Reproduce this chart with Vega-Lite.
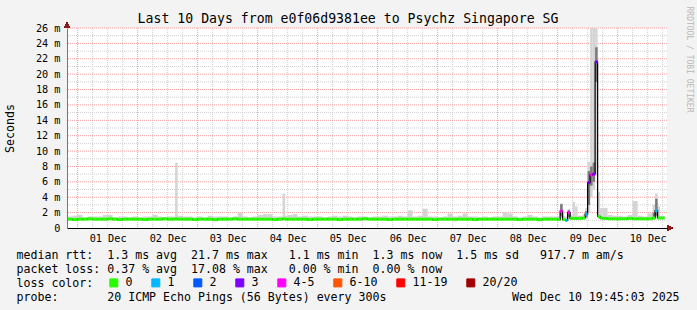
{
  "$schema": "https://vega.github.io/schema/vega-lite/v6.json",
  "width": 600,
  "height": 200,
  "autosize": "none",
  "padding": {"left": 67, "top": 28, "right": 30, "bottom": 82},
  "background": "#f3f3f3",
  "config": {"view": {"stroke": null, "fill": "#ffffff"}, "font": "DejaVu Sans Mono"},
  "title": {"text": "Last 10 Days from e0f06d9381ee to Psychz Singapore SG", "font": "DejaVu Sans Mono", "fontSize": 13.2, "fontWeight": "normal", "color": "#000000", "anchor": "middle", "frame": "group", "dx": -19, "offset": -30, "baseline": "alphabetic"},
  "data": {
    "values": [
      {"t":"2025-11-30T18:00:00Z","e":"2025-11-30T20:00:00Z","m":1.15,"l":1.0,"h":1.5,"p":"0"},
      {"t":"2025-11-30T20:00:00Z","e":"2025-11-30T22:00:00Z","m":1.15,"l":1.0,"h":1.5,"p":"0"},
      {"t":"2025-11-30T22:00:00Z","e":"2025-12-01T00:00:00Z","m":1.1,"l":0.9,"h":1.6,"p":"0"},
      {"t":"2025-12-01T00:00:00Z","e":"2025-12-01T02:00:00Z","m":1.15,"l":1.0,"h":1.7,"p":"0"},
      {"t":"2025-12-01T02:00:00Z","e":"2025-12-01T04:00:00Z","m":1.15,"l":1.0,"h":1.4,"p":"0"},
      {"t":"2025-12-01T04:00:00Z","e":"2025-12-01T06:00:00Z","m":1.2,"l":1.0,"h":1.5,"p":"0"},
      {"t":"2025-12-01T06:00:00Z","e":"2025-12-01T08:00:00Z","m":1.15,"l":1.0,"h":1.5,"p":"0"},
      {"t":"2025-12-01T08:00:00Z","e":"2025-12-01T10:00:00Z","m":1.15,"l":0.95,"h":1.5,"p":"0"},
      {"t":"2025-12-01T10:00:00Z","e":"2025-12-01T12:00:00Z","m":1.15,"l":1.0,"h":1.7,"p":"0"},
      {"t":"2025-12-01T12:00:00Z","e":"2025-12-01T14:00:00Z","m":1.2,"l":1.0,"h":1.7,"p":"0"},
      {"t":"2025-12-01T14:00:00Z","e":"2025-12-01T16:00:00Z","m":1.15,"l":1.0,"h":1.4,"p":"0"},
      {"t":"2025-12-01T16:00:00Z","e":"2025-12-01T18:00:00Z","m":1.1,"l":0.95,"h":1.5,"p":"0"},
      {"t":"2025-12-01T18:00:00Z","e":"2025-12-01T20:00:00Z","m":1.15,"l":1.0,"h":1.5,"p":"0"},
      {"t":"2025-12-01T20:00:00Z","e":"2025-12-01T22:00:00Z","m":1.15,"l":1.0,"h":1.4,"p":"0"},
      {"t":"2025-12-01T22:00:00Z","e":"2025-12-02T00:00:00Z","m":1.15,"l":1.0,"h":1.5,"p":"0"},
      {"t":"2025-12-02T00:00:00Z","e":"2025-12-02T02:00:00Z","m":1.15,"l":1.0,"h":1.4,"p":"0"},
      {"t":"2025-12-02T02:00:00Z","e":"2025-12-02T04:00:00Z","m":1.1,"l":0.95,"h":1.5,"p":"0"},
      {"t":"2025-12-02T04:00:00Z","e":"2025-12-02T06:00:00Z","m":1.15,"l":1.0,"h":1.5,"p":"0"},
      {"t":"2025-12-02T06:00:00Z","e":"2025-12-02T08:00:00Z","m":1.15,"l":1.0,"h":1.7,"p":"0"},
      {"t":"2025-12-02T08:00:00Z","e":"2025-12-02T10:00:00Z","m":1.15,"l":1.0,"h":1.5,"p":"0"},
      {"t":"2025-12-02T10:00:00Z","e":"2025-12-02T12:00:00Z","m":1.2,"l":1.0,"h":1.4,"p":"0"},
      {"t":"2025-12-02T12:00:00Z","e":"2025-12-02T14:00:00Z","m":1.15,"l":1.0,"h":1.5,"p":"0"},
      {"t":"2025-12-02T14:00:00Z","e":"2025-12-02T15:00:00Z","m":1.15,"l":1.0,"h":1.5,"p":"0"},
      {"t":"2025-12-02T15:00:00Z","e":"2025-12-02T16:00:00Z","m":1.2,"l":1.0,"h":8.5,"p":"0"},
      {"t":"2025-12-02T16:00:00Z","e":"2025-12-02T18:00:00Z","m":1.15,"l":1.0,"h":1.6,"p":"0"},
      {"t":"2025-12-02T18:00:00Z","e":"2025-12-02T20:00:00Z","m":1.15,"l":0.95,"h":1.5,"p":"0"},
      {"t":"2025-12-02T20:00:00Z","e":"2025-12-02T22:00:00Z","m":1.15,"l":1.0,"h":1.5,"p":"0"},
      {"t":"2025-12-02T22:00:00Z","e":"2025-12-03T00:00:00Z","m":1.1,"l":0.95,"h":1.4,"p":"0"},
      {"t":"2025-12-03T00:00:00Z","e":"2025-12-03T02:00:00Z","m":1.15,"l":1.0,"h":1.5,"p":"0"},
      {"t":"2025-12-03T02:00:00Z","e":"2025-12-03T04:00:00Z","m":1.15,"l":1.0,"h":1.4,"p":"0"},
      {"t":"2025-12-03T04:00:00Z","e":"2025-12-03T06:00:00Z","m":1.15,"l":1.0,"h":1.6,"p":"0"},
      {"t":"2025-12-03T06:00:00Z","e":"2025-12-03T08:00:00Z","m":1.1,"l":0.85,"h":1.5,"p":"0"},
      {"t":"2025-12-03T08:00:00Z","e":"2025-12-03T10:00:00Z","m":1.15,"l":1.0,"h":1.5,"p":"0"},
      {"t":"2025-12-03T10:00:00Z","e":"2025-12-03T12:00:00Z","m":1.15,"l":1.0,"h":1.5,"p":"0"},
      {"t":"2025-12-03T12:00:00Z","e":"2025-12-03T14:00:00Z","m":1.15,"l":1.0,"h":1.4,"p":"0"},
      {"t":"2025-12-03T14:00:00Z","e":"2025-12-03T16:00:00Z","m":1.2,"l":1.0,"h":1.5,"p":"0"},
      {"t":"2025-12-03T16:00:00Z","e":"2025-12-03T18:00:00Z","m":1.15,"l":1.0,"h":2.0,"p":"0"},
      {"t":"2025-12-03T18:00:00Z","e":"2025-12-03T20:00:00Z","m":1.15,"l":1.0,"h":1.5,"p":"0"},
      {"t":"2025-12-03T20:00:00Z","e":"2025-12-03T22:00:00Z","m":1.15,"l":1.0,"h":1.4,"p":"0"},
      {"t":"2025-12-03T22:00:00Z","e":"2025-12-04T00:00:00Z","m":1.15,"l":1.0,"h":1.5,"p":"0"},
      {"t":"2025-12-04T00:00:00Z","e":"2025-12-04T02:00:00Z","m":1.15,"l":1.0,"h":1.7,"p":"0"},
      {"t":"2025-12-04T02:00:00Z","e":"2025-12-04T04:00:00Z","m":1.15,"l":1.0,"h":1.8,"p":"0"},
      {"t":"2025-12-04T04:00:00Z","e":"2025-12-04T06:00:00Z","m":1.15,"l":1.0,"h":1.8,"p":"0"},
      {"t":"2025-12-04T06:00:00Z","e":"2025-12-04T08:00:00Z","m":1.1,"l":0.95,"h":1.5,"p":"0"},
      {"t":"2025-12-04T08:00:00Z","e":"2025-12-04T10:00:00Z","m":1.15,"l":1.0,"h":1.5,"p":"0"},
      {"t":"2025-12-04T10:00:00Z","e":"2025-12-04T11:00:00Z","m":1.2,"l":1.0,"h":4.5,"p":"0"},
      {"t":"2025-12-04T11:00:00Z","e":"2025-12-04T12:00:00Z","m":1.15,"l":1.0,"h":1.6,"p":"0"},
      {"t":"2025-12-04T12:00:00Z","e":"2025-12-04T14:00:00Z","m":1.15,"l":1.0,"h":1.7,"p":"0"},
      {"t":"2025-12-04T14:00:00Z","e":"2025-12-04T16:00:00Z","m":1.15,"l":1.0,"h":1.8,"p":"0"},
      {"t":"2025-12-04T16:00:00Z","e":"2025-12-04T18:00:00Z","m":1.15,"l":1.0,"h":1.5,"p":"0"},
      {"t":"2025-12-04T18:00:00Z","e":"2025-12-04T20:00:00Z","m":1.15,"l":1.0,"h":1.6,"p":"0"},
      {"t":"2025-12-04T20:00:00Z","e":"2025-12-04T22:00:00Z","m":1.1,"l":0.95,"h":1.5,"p":"0"},
      {"t":"2025-12-04T22:00:00Z","e":"2025-12-05T00:00:00Z","m":1.15,"l":1.0,"h":1.5,"p":"0"},
      {"t":"2025-12-05T00:00:00Z","e":"2025-12-05T02:00:00Z","m":1.15,"l":1.0,"h":1.5,"p":"0"},
      {"t":"2025-12-05T02:00:00Z","e":"2025-12-05T04:00:00Z","m":1.15,"l":1.0,"h":1.4,"p":"0"},
      {"t":"2025-12-05T04:00:00Z","e":"2025-12-05T06:00:00Z","m":1.15,"l":1.0,"h":1.5,"p":"0"},
      {"t":"2025-12-05T06:00:00Z","e":"2025-12-05T08:00:00Z","m":1.15,"l":1.0,"h":1.6,"p":"0"},
      {"t":"2025-12-05T08:00:00Z","e":"2025-12-05T10:00:00Z","m":1.1,"l":0.95,"h":1.5,"p":"0"},
      {"t":"2025-12-05T10:00:00Z","e":"2025-12-05T12:00:00Z","m":1.15,"l":1.0,"h":1.6,"p":"0"},
      {"t":"2025-12-05T12:00:00Z","e":"2025-12-05T14:00:00Z","m":1.15,"l":1.0,"h":1.5,"p":"0"},
      {"t":"2025-12-05T14:00:00Z","e":"2025-12-05T16:00:00Z","m":1.15,"l":1.0,"h":1.4,"p":"0"},
      {"t":"2025-12-05T16:00:00Z","e":"2025-12-05T18:00:00Z","m":1.15,"l":1.0,"h":1.5,"p":"0"},
      {"t":"2025-12-05T18:00:00Z","e":"2025-12-05T20:00:00Z","m":1.2,"l":1.0,"h":1.5,"p":"0"},
      {"t":"2025-12-05T20:00:00Z","e":"2025-12-05T22:00:00Z","m":1.15,"l":1.0,"h":1.4,"p":"0"},
      {"t":"2025-12-05T22:00:00Z","e":"2025-12-06T00:00:00Z","m":1.15,"l":1.0,"h":1.5,"p":"0"},
      {"t":"2025-12-06T00:00:00Z","e":"2025-12-06T02:00:00Z","m":1.15,"l":1.0,"h":1.5,"p":"0"},
      {"t":"2025-12-06T02:00:00Z","e":"2025-12-06T04:00:00Z","m":1.15,"l":1.0,"h":1.6,"p":"0"},
      {"t":"2025-12-06T04:00:00Z","e":"2025-12-06T06:00:00Z","m":1.1,"l":0.95,"h":1.5,"p":"0"},
      {"t":"2025-12-06T06:00:00Z","e":"2025-12-06T08:00:00Z","m":1.15,"l":1.0,"h":1.5,"p":"0"},
      {"t":"2025-12-06T08:00:00Z","e":"2025-12-06T10:00:00Z","m":1.15,"l":1.0,"h":1.6,"p":"0"},
      {"t":"2025-12-06T10:00:00Z","e":"2025-12-06T12:00:00Z","m":1.15,"l":1.0,"h":1.5,"p":"0"},
      {"t":"2025-12-06T12:00:00Z","e":"2025-12-06T14:00:00Z","m":1.15,"l":1.0,"h":2.3,"p":"0"},
      {"t":"2025-12-06T14:00:00Z","e":"2025-12-06T16:00:00Z","m":1.15,"l":1.0,"h":1.5,"p":"0"},
      {"t":"2025-12-06T16:00:00Z","e":"2025-12-06T18:00:00Z","m":1.15,"l":1.0,"h":1.6,"p":"0"},
      {"t":"2025-12-06T18:00:00Z","e":"2025-12-06T20:00:00Z","m":1.15,"l":1.0,"h":2.5,"p":"0"},
      {"t":"2025-12-06T20:00:00Z","e":"2025-12-06T22:00:00Z","m":1.15,"l":1.0,"h":1.5,"p":"0"},
      {"t":"2025-12-06T22:00:00Z","e":"2025-12-07T00:00:00Z","m":1.1,"l":0.95,"h":1.5,"p":"0"},
      {"t":"2025-12-07T00:00:00Z","e":"2025-12-07T02:00:00Z","m":1.15,"l":1.0,"h":1.4,"p":"0"},
      {"t":"2025-12-07T02:00:00Z","e":"2025-12-07T04:00:00Z","m":1.15,"l":1.0,"h":1.5,"p":"0"},
      {"t":"2025-12-07T04:00:00Z","e":"2025-12-07T06:00:00Z","m":1.15,"l":1.0,"h":1.9,"p":"0"},
      {"t":"2025-12-07T06:00:00Z","e":"2025-12-07T08:00:00Z","m":1.15,"l":0.85,"h":1.5,"p":"0"},
      {"t":"2025-12-07T08:00:00Z","e":"2025-12-07T10:00:00Z","m":1.15,"l":1.0,"h":1.6,"p":"0"},
      {"t":"2025-12-07T10:00:00Z","e":"2025-12-07T12:00:00Z","m":1.15,"l":1.0,"h":1.9,"p":"0"},
      {"t":"2025-12-07T12:00:00Z","e":"2025-12-07T14:00:00Z","m":1.15,"l":1.0,"h":1.5,"p":"0"},
      {"t":"2025-12-07T14:00:00Z","e":"2025-12-07T16:00:00Z","m":1.1,"l":0.95,"h":1.5,"p":"0"},
      {"t":"2025-12-07T16:00:00Z","e":"2025-12-07T18:00:00Z","m":1.15,"l":1.0,"h":1.4,"p":"0"},
      {"t":"2025-12-07T18:00:00Z","e":"2025-12-07T20:00:00Z","m":1.15,"l":1.0,"h":1.5,"p":"0"},
      {"t":"2025-12-07T20:00:00Z","e":"2025-12-07T22:00:00Z","m":1.15,"l":1.0,"h":1.4,"p":"0"},
      {"t":"2025-12-07T22:00:00Z","e":"2025-12-08T00:00:00Z","m":1.15,"l":1.0,"h":1.5,"p":"0"},
      {"t":"2025-12-08T00:00:00Z","e":"2025-12-08T02:00:00Z","m":1.15,"l":1.0,"h":1.5,"p":"0"},
      {"t":"2025-12-08T02:00:00Z","e":"2025-12-08T04:00:00Z","m":1.15,"l":1.0,"h":2.1,"p":"0"},
      {"t":"2025-12-08T04:00:00Z","e":"2025-12-08T06:00:00Z","m":1.15,"l":1.0,"h":1.9,"p":"0"},
      {"t":"2025-12-08T06:00:00Z","e":"2025-12-08T08:00:00Z","m":1.15,"l":0.95,"h":1.5,"p":"0"},
      {"t":"2025-12-08T08:00:00Z","e":"2025-12-08T10:00:00Z","m":1.1,"l":0.9,"h":1.4,"p":"0"},
      {"t":"2025-12-08T10:00:00Z","e":"2025-12-08T12:00:00Z","m":1.15,"l":1.0,"h":1.5,"p":"0"},
      {"t":"2025-12-08T12:00:00Z","e":"2025-12-08T14:00:00Z","m":1.15,"l":1.0,"h":1.7,"p":"0"},
      {"t":"2025-12-08T14:00:00Z","e":"2025-12-08T16:00:00Z","m":1.15,"l":1.0,"h":1.5,"p":"0"},
      {"t":"2025-12-08T16:00:00Z","e":"2025-12-08T18:00:00Z","m":1.1,"l":0.85,"h":1.4,"p":"0"},
      {"t":"2025-12-08T18:00:00Z","e":"2025-12-08T20:00:00Z","m":1.15,"l":1.0,"h":1.5,"p":"0"},
      {"t":"2025-12-08T20:00:00Z","e":"2025-12-08T22:00:00Z","m":1.15,"l":1.0,"h":1.5,"p":"0"},
      {"t":"2025-12-08T22:00:00Z","e":"2025-12-09T00:00:00Z","m":1.15,"l":1.0,"h":1.5,"p":"0"},
      {"t":"2025-12-09T00:00:00Z","e":"2025-12-09T01:00:00Z","m":1.1,"l":1.0,"h":1.5,"p":"0"},
      {"t":"2025-12-09T01:00:00Z","e":"2025-12-09T02:00:00Z","m":2.2,"l":1.1,"h":3.2,"dl":1.5,"dh":3.1,"p":"4-5"},
      {"t":"2025-12-09T02:00:00Z","e":"2025-12-09T03:00:00Z","m":1.1,"l":1.0,"h":1.6,"p":"0"},
      {"t":"2025-12-09T03:00:00Z","e":"2025-12-09T04:00:00Z","m":1.0,"l":0.9,"h":1.5,"p":"1"},
      {"t":"2025-12-09T04:00:00Z","e":"2025-12-09T05:00:00Z","m":2.0,"l":1.1,"h":2.5,"dl":1.4,"dh":2.3,"p":"4-5"},
      {"t":"2025-12-09T05:00:00Z","e":"2025-12-09T06:00:00Z","m":1.25,"l":1.1,"h":1.7,"p":"0"},
      {"t":"2025-12-09T06:00:00Z","e":"2025-12-09T07:00:00Z","m":1.25,"l":1.1,"h":3.4,"p":"0"},
      {"t":"2025-12-09T07:00:00Z","e":"2025-12-09T08:00:00Z","m":1.25,"l":1.1,"h":2.8,"p":"0"},
      {"t":"2025-12-09T08:00:00Z","e":"2025-12-09T10:00:00Z","m":1.25,"l":1.1,"h":1.6,"p":"0"},
      {"t":"2025-12-09T10:00:00Z","e":"2025-12-09T11:00:00Z","m":1.3,"l":1.1,"h":1.8,"p":"0"},
      {"t":"2025-12-09T11:00:00Z","e":"2025-12-09T12:00:00Z","m":1.8,"l":1.2,"h":2.6,"dl":1.4,"dh":2.2,"p":"1"},
      {"t":"2025-12-09T12:00:00Z","e":"2025-12-09T13:00:00Z","m":5.9,"l":2.0,"h":8.6,"dl":3.0,"dh":7.4,"p":"3"},
      {"t":"2025-12-09T13:00:00Z","e":"2025-12-09T14:00:00Z","m":6.9,"l":4.0,"h":27,"dl":5.5,"dh":8.0,"p":"4-5"},
      {"t":"2025-12-09T14:00:00Z","e":"2025-12-09T15:00:00Z","m":7.0,"l":5.0,"h":27,"dl":6.0,"dh":8.5,"p":"3"},
      {"t":"2025-12-09T15:00:00Z","e":"2025-12-09T16:00:00Z","m":21.6,"l":7.0,"h":27,"dl":19,"dh":23.5,"p":"3"},
      {"t":"2025-12-09T16:00:00Z","e":"2025-12-09T17:00:00Z","m":1.5,"l":1.2,"h":4.7,"p":"0"},
      {"t":"2025-12-09T17:00:00Z","e":"2025-12-09T18:00:00Z","m":1.3,"l":1.1,"h":2.6,"p":"0"},
      {"t":"2025-12-09T18:00:00Z","e":"2025-12-09T20:00:00Z","m":1.25,"l":1.1,"h":2.6,"p":"0"},
      {"t":"2025-12-09T20:00:00Z","e":"2025-12-09T22:00:00Z","m":1.2,"l":1.05,"h":1.7,"p":"0"},
      {"t":"2025-12-09T22:00:00Z","e":"2025-12-10T00:00:00Z","m":1.2,"l":1.05,"h":1.6,"p":"0"},
      {"t":"2025-12-10T00:00:00Z","e":"2025-12-10T02:00:00Z","m":1.2,"l":1.05,"h":1.6,"p":"0"},
      {"t":"2025-12-10T02:00:00Z","e":"2025-12-10T04:00:00Z","m":1.2,"l":1.05,"h":1.5,"p":"0"},
      {"t":"2025-12-10T04:00:00Z","e":"2025-12-10T06:00:00Z","m":1.25,"l":1.05,"h":1.7,"p":"0"},
      {"t":"2025-12-10T06:00:00Z","e":"2025-12-10T08:00:00Z","m":1.2,"l":1.05,"h":3.5,"p":"0"},
      {"t":"2025-12-10T08:00:00Z","e":"2025-12-10T10:00:00Z","m":1.2,"l":1.05,"h":1.6,"p":"0"},
      {"t":"2025-12-10T10:00:00Z","e":"2025-12-10T12:00:00Z","m":1.2,"l":1.05,"h":1.5,"p":"0"},
      {"t":"2025-12-10T12:00:00Z","e":"2025-12-10T14:00:00Z","m":1.2,"l":1.05,"h":1.9,"p":"0"},
      {"t":"2025-12-10T14:00:00Z","e":"2025-12-10T15:00:00Z","m":1.3,"l":1.1,"h":3.0,"dl":1.4,"dh":2.0,"p":"0"},
      {"t":"2025-12-10T15:00:00Z","e":"2025-12-10T16:00:00Z","m":2.25,"l":1.2,"h":4.5,"dl":1.6,"dh":3.8,"p":"1"},
      {"t":"2025-12-10T16:00:00Z","e":"2025-12-10T17:00:00Z","m":1.3,"l":1.1,"h":2.8,"p":"0"},
      {"t":"2025-12-10T17:00:00Z","e":"2025-12-10T18:48:00Z","m":1.3,"l":1.1,"h":1.6,"p":"0"}
    ]
  },
  "resolve": {"axis": {"y": "independent"}},
  "layer": [
    {
      "data": {"values": [
        {"g":"2025-12-01T00:00:00Z","k":"d"},{"g":"2025-12-01T06:00:00Z","k":"h"},{"g":"2025-12-01T12:00:00Z","k":"h"},{"g":"2025-12-01T18:00:00Z","k":"h"},
        {"g":"2025-12-02T00:00:00Z","k":"d"},{"g":"2025-12-02T06:00:00Z","k":"h"},{"g":"2025-12-02T12:00:00Z","k":"h"},{"g":"2025-12-02T18:00:00Z","k":"h"},
        {"g":"2025-12-03T00:00:00Z","k":"d"},{"g":"2025-12-03T06:00:00Z","k":"h"},{"g":"2025-12-03T12:00:00Z","k":"h"},{"g":"2025-12-03T18:00:00Z","k":"h"},
        {"g":"2025-12-04T00:00:00Z","k":"d"},{"g":"2025-12-04T06:00:00Z","k":"h"},{"g":"2025-12-04T12:00:00Z","k":"h"},{"g":"2025-12-04T18:00:00Z","k":"h"},
        {"g":"2025-12-05T00:00:00Z","k":"d"},{"g":"2025-12-05T06:00:00Z","k":"h"},{"g":"2025-12-05T12:00:00Z","k":"h"},{"g":"2025-12-05T18:00:00Z","k":"h"},
        {"g":"2025-12-06T00:00:00Z","k":"d"},{"g":"2025-12-06T06:00:00Z","k":"h"},{"g":"2025-12-06T12:00:00Z","k":"h"},{"g":"2025-12-06T18:00:00Z","k":"h"},
        {"g":"2025-12-07T00:00:00Z","k":"d"},{"g":"2025-12-07T06:00:00Z","k":"h"},{"g":"2025-12-07T12:00:00Z","k":"h"},{"g":"2025-12-07T18:00:00Z","k":"h"},
        {"g":"2025-12-08T00:00:00Z","k":"d"},{"g":"2025-12-08T06:00:00Z","k":"h"},{"g":"2025-12-08T12:00:00Z","k":"h"},{"g":"2025-12-08T18:00:00Z","k":"h"},
        {"g":"2025-12-09T00:00:00Z","k":"d"},{"g":"2025-12-09T06:00:00Z","k":"h"},{"g":"2025-12-09T12:00:00Z","k":"h"},{"g":"2025-12-09T18:00:00Z","k":"h"},
        {"g":"2025-12-10T00:00:00Z","k":"d"},{"g":"2025-12-10T06:00:00Z","k":"h"},{"g":"2025-12-10T12:00:00Z","k":"h"},{"g":"2025-12-10T18:00:00Z","k":"h"}
      ]},
      "mark": {"type": "rule", "strokeDash": [1, 1], "strokeWidth": 1},
      "encoding": {
        "x": {"field": "g", "type": "temporal"},
        "stroke": {"field": "k", "type": "nominal", "scale": {"domain": ["d", "h"], "range": ["#f4a0a0", "#cfcfcf"]}, "legend": null}
      }
    },
    {
      "data": {"values": [
        {"v":1,"k":"h"},{"v":2,"k":"d"},{"v":3,"k":"h"},{"v":4,"k":"d"},{"v":5,"k":"h"},{"v":6,"k":"d"},{"v":7,"k":"h"},{"v":8,"k":"d"},{"v":9,"k":"h"},
        {"v":10,"k":"d"},{"v":11,"k":"h"},{"v":12,"k":"d"},{"v":13,"k":"h"},{"v":14,"k":"d"},{"v":15,"k":"h"},{"v":16,"k":"d"},{"v":17,"k":"h"},{"v":18,"k":"d"},
        {"v":19,"k":"h"},{"v":20,"k":"d"},{"v":21,"k":"h"},{"v":22,"k":"d"},{"v":23,"k":"h"},{"v":24,"k":"d"},{"v":25,"k":"h"},{"v":26,"k":"d"}
      ]},
      "mark": {"type": "rule", "strokeDash": [1, 1], "strokeWidth": 1},
      "encoding": {
        "y": {"field": "v", "type": "quantitative", "axis": null},
        "stroke": {"field": "k", "type": "nominal", "legend": null}
      }
    },
    {
      "mark": {"type": "rect", "color": "#d4d4d4", "clip": true},
      "encoding": {
        "x": {"field": "t", "type": "temporal",
          "scale": {"nice": false, "domain": [1764531900000, 1765395900000]},
          "axis": {
            "values": [1764590400000, 1764676800000, 1764763200000, 1764849600000, 1764936000000, 1765022400000, 1765108800000, 1765195200000, 1765281600000, 1765368000000],
            "format": "%d %b",
            "grid": false,
            "ticks": false,
            "tickSize": 0,
            "domainColor": "#000000",
            "domainWidth": 1,
            "zindex": 1,
            "labelFont": "DejaVu Sans Mono",
            "labelFontSize": 10.2,
            "labelColor": "#000000",
            "labelBaseline": "alphabetic",
            "labelPadding": 13,
            "labelOverlap": false,
            "labelFlush": false,
            "labelBound": false,
            "title": [
              "median rtt:\u00a0\u00a01.3 ms avg\u00a0\u00a021.7 ms max\u00a0\u00a0\u00a01.1 ms min\u00a0\u00a01.3 ms now\u00a0\u00a01.5 ms sd\u00a0\u00a0\u00a0917.7 m am/s",
              "packet loss: 0.37 % avg\u00a0\u00a017.08 % max\u00a0\u00a0\u00a00.00 % min\u00a0\u00a00.00 % now",
              "loss color:",
              "probe:\u00a0\u00a0\u00a0\u00a0\u00a0\u00a0\u00a020 ICMP Echo Pings (56 Bytes) every 300s\u00a0\u00a0\u00a0\u00a0\u00a0\u00a0\u00a0\u00a0\u00a0\u00a0\u00a0\u00a0\u00a0\u00a0\u00a0\u00a0\u00a0\u00a0Wed Dec 10 19:45:03 2025"
            ],
            "titleFont": "DejaVu Sans Mono",
            "titleFontSize": 11.6,
            "titleFontWeight": "normal",
            "titleColor": "#000000",
            "titleAlign": "left",
            "titleBaseline": "alphabetic",
            "titleLineHeight": 14,
            "titleX": -51,
            "titleY": 30
          }
        },
        "x2": {"field": "e"},
        "y": {"field": "l", "type": "quantitative",
          "scale": {"domain": [0, 26], "nice": false},
          "axis": {
            "orient": "left",
            "values": [0, 2, 4, 6, 8, 10, 12, 14, 16, 18, 20, 22, 24, 26],
            "grid": false,
            "ticks": false,
            "tickSize": 0,
            "domainColor": "#777777",
            "zindex": 1,
            "labelExpr": "datum.value === 0 ? '0' : datum.value + ' m'",
            "labelFont": "DejaVu Sans Mono",
            "labelFontSize": 10.2,
            "labelColor": "#000000",
            "labelPadding": 7,
            "labelOverlap": false,
            "labelBound": false,
            "labelFlush": false,
            "title": "Seconds",
            "titleFont": "DejaVu Sans Mono",
            "titleFontSize": 11.6,
            "titleFontWeight": "normal",
            "titleColor": "#000000",
            "titleAngle": -90,
            "titleAlign": "center",
            "titleBaseline": "middle",
            "titleX": -57,
            "titleY": 100
          }
        },
        "y2": {"field": "h"}
      }
    },
    {
      "mark": {"type": "rect", "color": "#7a7a7a", "clip": true},
      "encoding": {
        "x": {"field": "t", "type": "temporal"},
        "x2": {"field": "e"},
        "y": {"field": "dl", "type": "quantitative", "axis": null},
        "y2": {"field": "dh"}
      }
    },
    {
      "mark": {"type": "line", "interpolate": "step-after", "color": "#000000", "strokeWidth": 1.2, "clip": true},
      "encoding": {
        "x": {"field": "t", "type": "temporal"},
        "y": {"field": "m", "type": "quantitative",
          "axis": {"orient": "right", "labels": false, "ticks": false, "domain": false, "grid": false,
            "title": "RRDTOOL / TOBI OETIKER", "titleAngle": 90, "titleFont": "DejaVu Sans Mono", "titleFontSize": 8, "titleFontWeight": "normal", "titleColor": "#b8b8b8", "titleX": 21, "titleY": 31, "titleAlign": "center", "titleBaseline": "middle"}
        }
      }
    },
    {
      "mark": {"type": "rule", "strokeWidth": 3, "clip": true},
      "encoding": {
        "x": {"field": "t", "type": "temporal"},
        "x2": {"field": "e"},
        "y": {"field": "m", "type": "quantitative", "axis": null},
        "color": {"field": "p", "type": "nominal",
          "scale": {"domain": ["0", "1", "2", "3", "4-5", "6-10", "11-19", "20/20"], "range": ["#26ff00", "#00b8ff", "#0059ff", "#7e00ff", "#ff00ff", "#ff5500", "#ff0000", "#a10000"]},
          "legend": {
            "orient": "none", "legendX": 41, "legendY": 249, "direction": "horizontal", "columns": 8, "title": null,
            "symbolType": "square", "symbolSize": 64, "symbolStrokeWidth": 1, "symbolStrokeColor": "#000000",
            "labelFont": "DejaVu Sans Mono", "labelFontSize": 11.6, "labelColor": "#000000", "labelOffset": 6, "columnPadding": 16, "padding": 0,
            "encode": {"symbols": {"update": {"fill": {"scale": "color", "field": "value"}, "fillOpacity": {"value": 1}, "stroke": {"value": "#000000"}, "strokeWidth": {"value": 1}, "opacity": {"value": 1}}}}
          }
        }
      }
    },
    {
      "mark": {"type": "point", "shape": "triangle-up", "filled": true, "color": "#8b1a1a", "size": 28, "opacity": 1, "yOffset": -3},
      "encoding": {
        "x": {"datum": 1764531900000, "type": "temporal"},
        "y": {"datum": 26, "type": "quantitative", "axis": null}
      }
    },
    {
      "mark": {"type": "point", "shape": "triangle-right", "filled": true, "color": "#8b1a1a", "size": 28, "opacity": 1, "xOffset": 3},
      "encoding": {
        "x": {"datum": 1765395900000, "type": "temporal"},
        "y": {"datum": 0, "type": "quantitative", "axis": null}
      }
    }
  ]
}
